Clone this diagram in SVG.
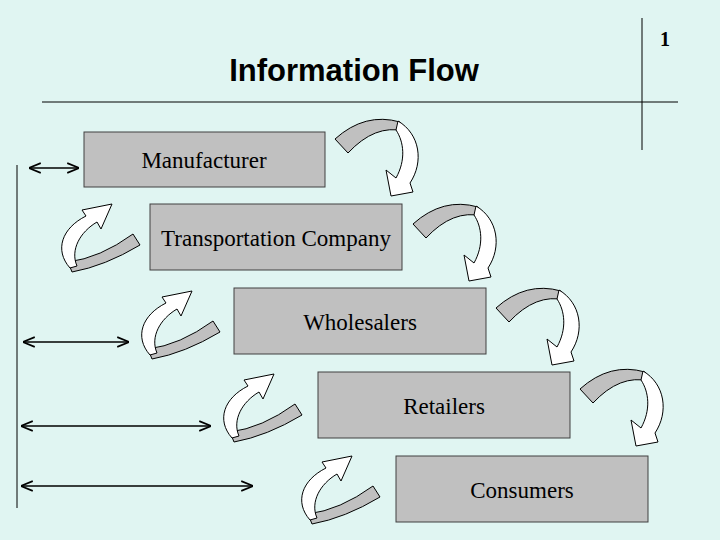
<svg xmlns="http://www.w3.org/2000/svg" width="720" height="540" viewBox="0 0 720 540">
<style>
.box{fill:#c0c0c0;stroke:#404040;stroke-width:1}
.t{font-family:"Liberation Serif",serif;font-size:23px;text-anchor:middle}
.g{fill:#c0c0c0;stroke:#000;stroke-width:1}
.w{fill:#fff;stroke:#000;stroke-width:1}
.ln{stroke:#000;stroke-width:1.5;fill:none}
</style>
<defs>
<marker id="ah" viewBox="0 0 10 10" refX="9" refY="5" markerWidth="8" markerHeight="8" orient="auto-start-reverse"><path d="M0,1 L10,5 L0,9" fill="none" stroke="#000" stroke-width="1.5"/></marker>
<g id="dn">
<path class="g" d="M335,139 Q365,112 400,122 L404,131 Q375,124 348,153 Z"/>
<path class="w" d="M398,121 C420,134 424,162 410,183 L413,192 L391,196 L386,170 L396,178 C406,160 404,142 396,130 Z"/>
</g>
<g id="up">
<path class="g" d="M133,234 L140,245 Q105,266 72,272 L68,262 Q100,258 133,234 Z"/>
<path class="w" d="M70,268 C54,250 62,228 86,216 L82,210 L112,204 L101,229 L97,222 C80,232 70,250 77,266 Z"/>
</g>
</defs>
<rect width="720" height="540" fill="#e0f5f2"/>
<text x="354" y="81" font-family="Liberation Sans,sans-serif" font-size="31" font-weight="bold" text-anchor="middle">Information Flow</text>
<text x="665" y="46" font-family="Liberation Serif,serif" font-size="20" font-weight="bold" text-anchor="middle">1</text>
<line x1="42" y1="102" x2="678" y2="102" stroke="#000"/>
<line x1="642" y1="18" x2="642" y2="150" stroke="#000"/>
<g id="connectors">
<line x1="17" y1="165" x2="17" y2="508" stroke="#000"/>
<line class="ln" x1="30" y1="168" x2="78" y2="168" marker-start="url(#ah)" marker-end="url(#ah)"/>
<line class="ln" x1="24" y1="342" x2="128" y2="342" marker-start="url(#ah)" marker-end="url(#ah)"/>
<line class="ln" x1="22" y1="426" x2="210" y2="426" marker-start="url(#ah)" marker-end="url(#ah)"/>
<line class="ln" x1="22" y1="486" x2="252" y2="486" marker-start="url(#ah)" marker-end="url(#ah)"/>
<use href="#dn"/>
<use href="#dn" transform="translate(78,85)"/>
<use href="#dn" transform="translate(161,169)"/>
<use href="#dn" transform="translate(245,250)"/>
<use href="#up"/>
<use href="#up" transform="translate(80,87)"/>
<use href="#up" transform="translate(162,170)"/>
<use href="#up" transform="translate(240,252)"/>
</g>
<g id="manufacturer"><rect class="box" x="84" y="132" width="241" height="55"/><text class="t" x="204" y="168">Manufacturer</text></g>
<g id="transport"><rect class="box" x="150" y="204" width="252" height="66"/><text class="t" x="276" y="246">Transportation Company</text></g>
<g id="wholesalers"><rect class="box" x="234" y="288" width="252" height="66"/><text class="t" x="360" y="330">Wholesalers</text></g>
<g id="retailers"><rect class="box" x="318" y="372" width="252" height="66"/><text class="t" x="444" y="414">Retailers</text></g>
<g id="consumers"><rect class="box" x="396" y="456" width="252" height="66"/><text class="t" x="522" y="498">Consumers</text></g>
</svg>
